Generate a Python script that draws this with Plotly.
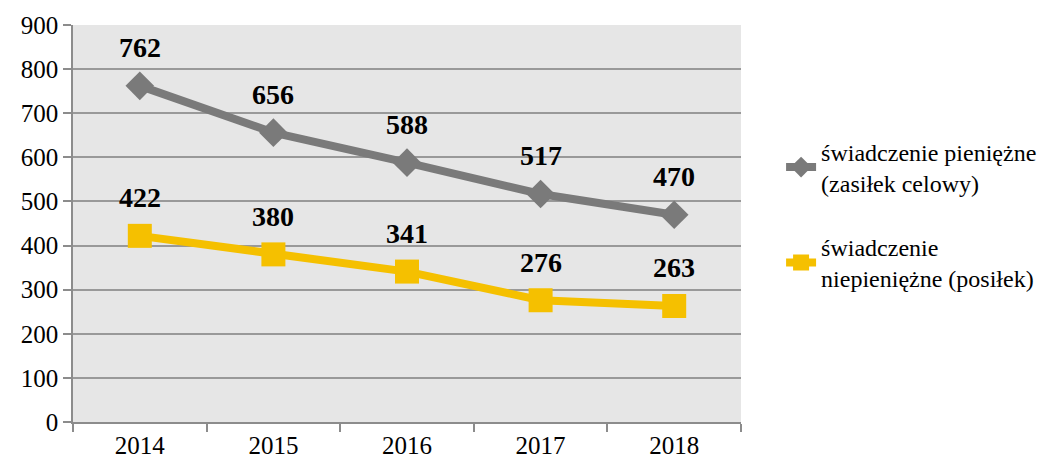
import plotly.graph_objects as go

years = [2014, 2015, 2016, 2017, 2018]
pieniezne = [762, 656, 588, 517, 470]
niepieniezne = [422, 380, 341, 276, 263]
series_names = [
    "świadczenie pieniężne<br>(zasiłek celowy)",
    "świadczenie<br>niepieniężne (posiłek)",
]

GRAY = "#7a7a7a"
YELLOW = "#f5c000"
AXIS = "#8c8c8c"
FONT = "Liberation Serif"

fig = go.Figure()
fig.add_trace(go.Scatter(
    x=years, y=pieniezne, name=series_names[0], mode="lines+markers",
    legendgroup="pieniezne",
    line=dict(color=GRAY, width=8),
    marker=dict(symbol="diamond", size=22, color=GRAY),
))
fig.add_trace(go.Scatter(
    x=years, y=niepieniezne, name=series_names[1], mode="lines+markers",
    legendgroup="niepieniezne",
    line=dict(color=YELLOW, width=8),
    marker=dict(symbol="square", size=24, color=YELLOW),
))

# value labels above each point
for vals in (pieniezne, niepieniezne):
    for x, v in zip(years, vals):
        fig.add_annotation(
            x=x, y=v, xref="x", yref="y", text=f"<b>{v}</b>", showarrow=False,
            yshift=38, font=dict(family=FONT, size=28, color="black"),
        )

# tick marks sit on the boundaries between years
boundaries = [years[0] - 0.5] + [y + 0.5 for y in years]

fig.update_layout(
    width=1060, height=464,
    margin=dict(l=73, r=319, t=25, b=42),
    paper_bgcolor="white", plot_bgcolor="#e6e6e6",
    font=dict(family=FONT, size=24, color="black"),
    showlegend=True,
    legend=dict(
        x=1.06, y=0.737, xanchor="left", yanchor="top",
        font=dict(family=FONT, size=24, color="black"),
        bgcolor="rgba(0,0,0,0)", traceorder="grouped", tracegroupgap=30,
    ),
)
fig.update_xaxes(
    range=[boundaries[0], boundaries[-1]], automargin=False,
    tickmode="array", tickvals=years, ticktext=[str(y) for y in years],
    ticks="", showgrid=False, zeroline=False,
    minor=dict(tickmode="array", tickvals=boundaries, ticks="outside",
               ticklen=8, tickcolor=AXIS, tickwidth=1.5, showgrid=False),
    showline=True, linecolor=AXIS, linewidth=1.5,
    tickfont=dict(family=FONT, size=25),
)
fig.update_yaxes(
    range=[0, 900], dtick=100, ticks="outside", ticklen=8, automargin=False,
    tickcolor=AXIS, tickwidth=1.5,
    showgrid=True, gridcolor="#999999", gridwidth=1.5,
    showline=True, linecolor=AXIS, linewidth=1.5,
    zeroline=False, tickfont=dict(family=FONT, size=25),
)

fig.write_html("out.html")
